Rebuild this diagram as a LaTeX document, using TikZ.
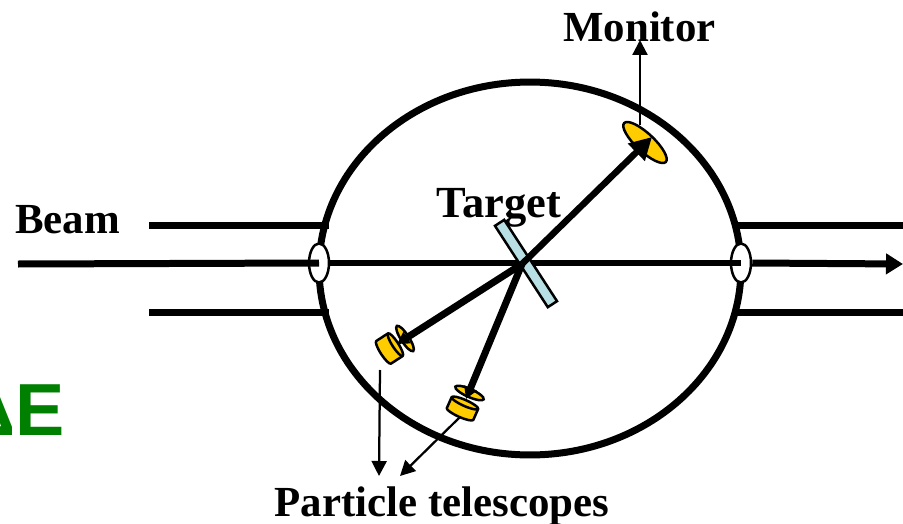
\documentclass[tikz,border=0pt]{standalone}
\usepackage{fontspec}
\setmainfont{Liberation Serif}
\newfontfamily\greenfont{Liberation Sans}
\usetikzlibrary{arrows.meta,shapes.geometric}
\definecolor{detyellow}{RGB}{255,204,0}
\definecolor{targetblue}{RGB}{184,224,228}
\definecolor{labelgreen}{RGB}{0,128,0}
\tikzset{
	label text/.style={font=\bfseries\fontsize{24.4}{24.4}\selectfont,inner sep=0pt,anchor=base},
	beam line/.style={line width=0.14cm},
	thick arrow/.style={line width=0.13cm,-{Triangle[length=0.44cm,width=0.46cm]}},
	short arrow/.style={line width=0.14cm,-{Triangle[length=0.24cm,width=0.26cm]}},
	thin arrow/.style={line width=0.045cm,-{Triangle[length=0.3cm,width=0.3cm]}},
	window/.style={ellipse,draw,fill=white,line width=0.05cm,inner sep=0pt,minimum width=0.4cm,minimum height=0.78cm},
	disc/.style={ellipse,draw,fill=detyellow,line width=0.05cm,inner sep=0pt},
	barrel/.style={draw,fill=detyellow,line width=0.05cm,line join=round}
}
\begin{document}
\begin{tikzpicture}[x=0.02cm,y=-0.02cm]
	\useasboundingbox (0,0) rectangle (903,524);
	% chamber
	\node[ellipse,draw,line width=0.14cm,inner sep=0pt,outer sep=0pt,minimum width=8.44cm,minimum height=7.46cm] (chamber) at (530,268.5) {};
	% free ends of the lines
	\coordinate (beamL) at (18,264);
	\coordinate (beamR) at (903,264);
	\coordinate (upL) at (149,225);
	\coordinate (upLe) at (329,225);
	\coordinate (lowL) at (149,312);
	\coordinate (lowLe) at (329,312);
	\coordinate (upR) at (903,225);
	\coordinate (upRe) at (733,225);
	\coordinate (lowR) at (903,312);
	\coordinate (lowRe) at (733,312);
	\coordinate (hit) at (522,264);
	\draw[beam line] (upL) -- (upLe);
	\draw[beam line] (lowL) -- (lowLe);
	\draw[beam line] (upRe) -- (upR);
	\draw[beam line] (lowRe) -- (lowR);
	% windows
	\node[window] (winL) at (319,263) {};
	\node[window] (winR) at (741,263) {};
	\draw[beam line] (beamL) -- (winL.center);
	\draw[line width=0.13cm] (winL.east) -- (winR.center);
	\draw[beam line,-{Triangle[length=0.34cm,width=0.4cm]}] (winR.east) -- (beamR);
	% detectors
	\node[disc,rotate=-43,minimum width=1.14cm,minimum height=0.36cm] (monitor) at (645,142.5) {};
	\node[disc,rotate=-57,minimum width=0.6cm,minimum height=0.16cm] (discA) at (405,338.5) {};
	\node[disc,rotate=-24,minimum width=0.62cm,minimum height=0.16cm] (discB) at (469.5,393) {};
	% the two barrels, local x points at the target
	\foreach \bx/\by/\ang/\hl/\hw in {389.5/348.5/33/7/13.5,462.5/408.5/66/6/14.5} {
		\begin{scope}[shift={(\bx,\by)},rotate=\ang,x=0.02cm,y=0.02cm]
			\draw[barrel] (-\hl,\hw) -- (\hl,\hw) arc[start angle=90,end angle=-90,x radius=3,y radius=\hw]
				-- (-\hl,-\hw) arc[start angle=-90,end angle=-270,x radius=3,y radius=\hw] -- cycle;
			\draw[barrel,fill=none] (\hl,\hw) arc[start angle=90,end angle=270,x radius=3,y radius=\hw];
		\end{scope}
	}
	% target
	\node[draw,fill=targetblue,line width=0.05cm,inner sep=0pt,rotate=-57,minimum width=1.94cm,minimum height=0.22cm] (target) at (526,263.5) {};
	% particle tracks
	\coordinate (tipM) at (652,137);
	\coordinate (tipA) at (397,344);
	\coordinate (tipB) at (466,399);
	\draw[thick arrow] (hit) -- (tipM);
	\draw[short arrow] (hit) -- (tipA);
	\draw[short arrow] (hit) -- (tipB);
	% labels
	\node[label text] (monitorlabel) at (639.5,41) {Monitor};
	\node[label text,font=\bfseries\fontsize{25.3}{25.3}\selectfont] (targetlabel) at (499,217) {Target};
	\node[label text] (beamlabel) at (67.5,233) {Beam};
	\node[label text] (telescopes) at (442,516) {Particle telescopes};
	\node[font=\greenfont\bfseries\fontsize{42}{42}\selectfont,text=labelgreen,inner sep=0pt,anchor=base east] (energy) at (65,435) {ΔE};
	% pointers
	\coordinate (monitorfoot) at (640,125);
	\coordinate (monitorhead) at (640,40);
	\coordinate (footA) at (380,370);
	\coordinate (headA) at (379,476);
	\coordinate (footB) at (460,417);
	\coordinate (headB) at (400,476);
	\draw[thin arrow] (monitorfoot) -- (monitorhead);
	\draw[thin arrow] (footA) -- (headA);
	\draw[thin arrow] (footB) -- (headB);
\end{tikzpicture}
\end{document}
